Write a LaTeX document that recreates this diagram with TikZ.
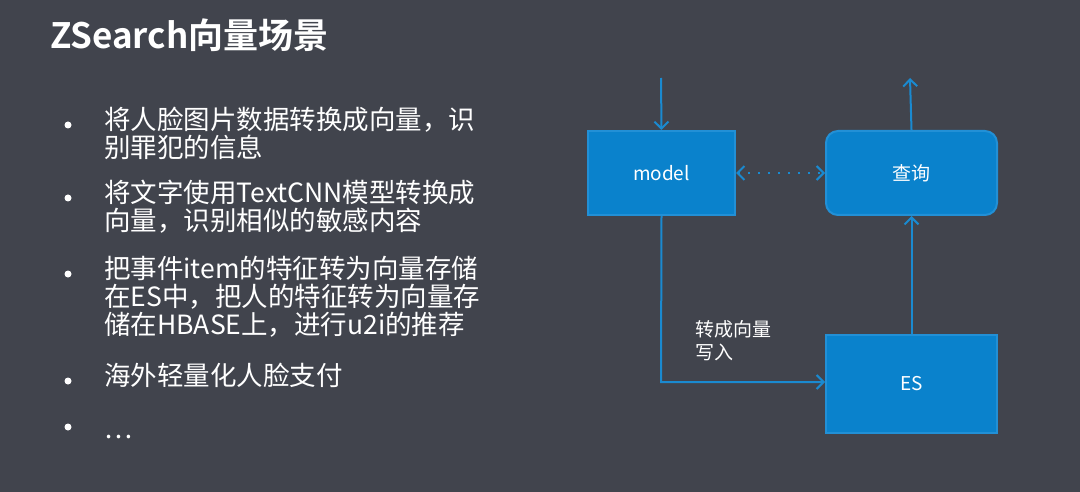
\documentclass[tikz,border=0pt]{standalone}
\usepackage{fontspec}
\setmainfont{Noto Sans CJK SC}
\newfontfamily\cjkb{Noto Sans CJK SC Bold}
\usetikzlibrary{arrows.meta}
\definecolor{bg}{HTML}{41444D}
\definecolor{boxfill}{HTML}{0A82CC}
\definecolor{boxline}{HTML}{2290D6}
\definecolor{arr}{HTML}{1A8AD0}
\tikzset{
  x=1pt,y=-1pt,
  blk/.style={draw=boxline,line width=2pt,fill=boxfill,text=white,font=\fontsize{19}{20}\selectfont},
  flow/.style={draw=arr,line width=2pt,-{Straight Barb[length=7pt,width=14pt]}},
  txt/.style={text=white,anchor=north west,font=\fontsize{26.5}{28}\selectfont,align=left,inner sep=0pt},
  bul/.style={fill=white,circle,inner sep=0pt,minimum size=7pt}
}
\begin{document}
\begin{tikzpicture}
\fill[bg] (0,0) rectangle (1080,492);
\useasboundingbox (0,0) rectangle (1080,492);
\node[text=white,anchor=west,inner sep=0pt,font=\cjkb\fontsize{35}{38}\selectfont] (title) at (50,35) {ZSearch向量场景};
\node[bul] (b1) at (68,125) {};
\node[txt] (t1) at (104,107) {将人脸图片数据转换成向量，识\\别罪犯的信息};
\node[bul] (b2) at (68,198) {};
\node[txt] (t2) at (104,180) {将文字使用TextCNN模型转换成\\向量，识别相似的敏感内容};
\node[bul] (b3) at (68,274) {};
\node[txt] (t3) at (104,256) {把事件item的特征转为向量存储\\在ES中，把人的特征转为向量存\\储在HBASE上，进行u2i的推荐};
\node[bul] (b4) at (68,381) {};
\node[txt] (t4) at (104,363) {海外轻量化人脸支付};
\node[bul] (b5) at (68,427) {};
\node[txt,anchor=base west] (t5) at (104,438) {…};

\node[blk,minimum width=147pt,minimum height=84pt] (model) at (661.5,173) {model};
\node[blk,rounded corners=12pt,minimum width=171pt,minimum height=84pt] (query) at (911.5,173) {查询};
\node[blk,minimum width=171pt,minimum height=98pt] (es) at (911.5,384) {ES};
\coordinate (in) at (661,78);
\coordinate (out) at (910,78);
\coordinate (corner) at (661,382);
\draw[flow] (in) -- (model.north);
\draw[flow] (query.north) -- (out);
\draw[flow] (es.north) -- (query.south);
\draw[flow] (model.south) -- (corner) -- (es.west |- corner);
\draw[draw=arr,line width=2pt,dash pattern=on 2pt off 8pt,{Straight Barb[length=7pt,width=14pt]}-{Straight Barb[length=7pt,width=14pt]}] (model.east) -- (query.west);
\node[text=white,anchor=north west,inner sep=0pt,align=left,font=\fontsize{19}{23}\selectfont] (lab) at (695,320) {转成向量\\写入};
\end{tikzpicture}
\end{document}
